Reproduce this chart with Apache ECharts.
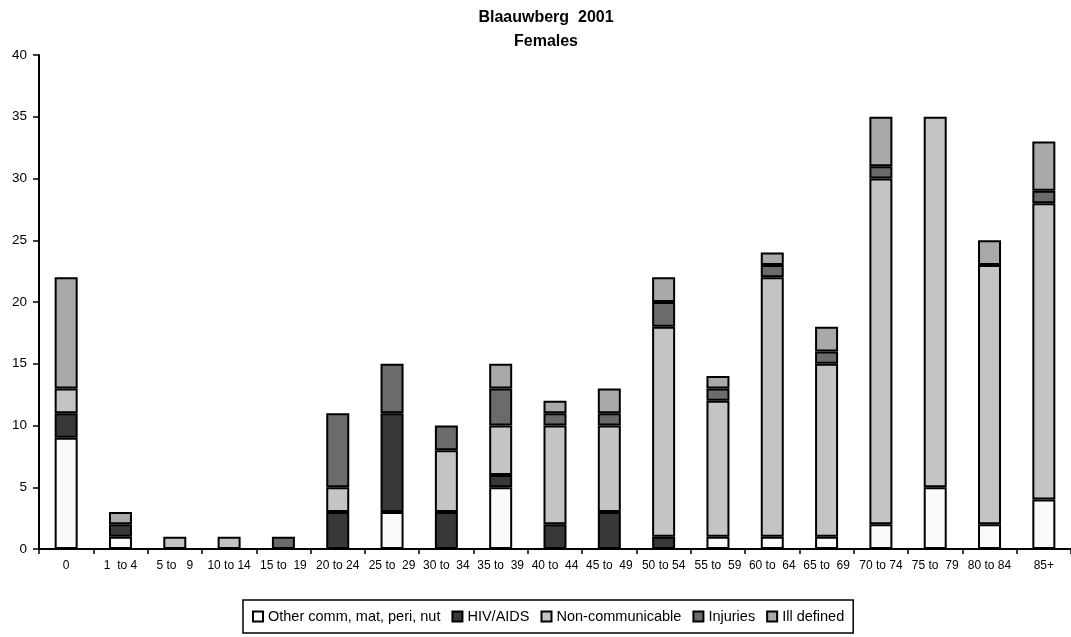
<!DOCTYPE html>
<html>
<head>
<meta charset="utf-8">
<script src="https://cdn.jsdelivr.net/npm/echarts@6/dist/echarts.min.js"></script>
<style>
html,body{margin:0;padding:0;background:#fff;}
#chart{width:1071px;height:637px;}
</style>
</head>
<body>
<div id="chart"></div>
<script>
var categories = ['0','1  to 4','5 to   9','10 to 14','15 to  19','20 to 24','25 to  29','30 to  34','35 to  39','40 to  44','45 to  49','50 to 54','55 to  59','60 to  64','65 to  69','70 to 74','75 to  79','80 to 84','85+'];
var otherComm     = [9,1,0,0,0,0,3,0,5,0,0,0,1,1,1,2,5,2,4];
var hivAids       = [2,1,0,0,0,3,8,3,1,2,3,1,0,0,0,0,0,0,0];
var nonComm       = [2,0,1,1,0,2,0,5,4,8,7,17,11,21,14,28,30,21,24];
var injuries      = [0,0,0,0,1,6,4,2,3,1,1,2,1,1,1,1,0,0,1];
var illDefined    = [9,1,0,0,0,0,0,0,2,1,2,2,1,1,2,4,0,2,4];
var seriesNames   = ['Other comm, mat, peri, nut','HIV/AIDS','Non-communicable','Injuries','Ill defined'];
var yTicks        = [0,5,10,15,20,25,30,35,40];

var seriesData = [otherComm, hivAids, nonComm, injuries, illDefined];
var colors = ['#fafafa','#383838','#c4c4c4','#6b6b6b','#a9a9a9'];
var font = 'Liberation Sans, Arial, sans-serif';

var chart = echarts.init(document.getElementById('chart'), null, {renderer:'canvas'});
chart.setOption({
  animation:false,
  backgroundColor:'#fff',
  title:{
    text:'Blaauwberg  2001\nFemales',
    left:546, top:6, textAlign:'center', padding:0,
    textStyle:{fontFamily:font, fontWeight:'bold', fontSize:16, lineHeight:24, color:'#000'}
  },
  legend:{
    data:seriesNames,
    left:243, top:600,
    padding:[9,9,9,9],
    itemGap:11, itemWidth:10, itemHeight:10,
    borderColor:'#000', borderWidth:1.5,
    icon:'rect',
    textStyle:{fontFamily:font, fontSize:14.5, color:'#000'}
  },
  grid:{left:39, top:55, height:494, width:1038, containLabel:false},
  xAxis:{
    type:'category',
    data:categories,
    axisLine:{lineStyle:{color:'#000', width:2}},
    axisTick:{show:true, length:5, alignWithLabel:false, lineStyle:{color:'#000', width:1.5}},
    axisLabel:{fontFamily:font, fontSize:12, color:'#000', margin:11, interval:0}
  },
  yAxis:{
    type:'value',
    min:yTicks[0], max:yTicks[yTicks.length-1], interval:5,
    splitLine:{show:false},
    axisLine:{show:true, lineStyle:{color:'#000', width:2}},
    axisTick:{show:true, length:6, lineStyle:{color:'#000', width:1.5}},
    axisLabel:{fontFamily:font, fontSize:13.5, color:'#000', margin:12}
  },
  series:seriesData.map(function(arr, i){
    return {
      name:seriesNames[i],
      type:'bar',
      stack:'total',
      barWidth:23,
      data:arr.map(function(v){ return v === 0 ? null : v; }),
      itemStyle:{color:colors[i], borderColor:'#000', borderWidth:2}
    };
  })
});
</script>
</body>
</html>
